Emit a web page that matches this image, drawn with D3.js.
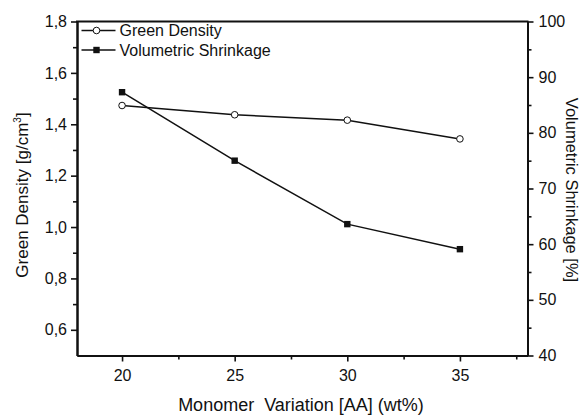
<!DOCTYPE html>
<html>
<head>
<meta charset="utf-8">
<script src="https://cdn.jsdelivr.net/npm/d3@7"></script>
<style>
  body { margin: 0; background: #fff; }
  svg text { font-family: "Liberation Sans", Arial, sans-serif; fill: #111; }
</style>
</head>
<body>
<svg id="chart" width="582" height="415"></svg>
<script>
// data
const monomer = [20, 25, 30, 35];
const greenDensity = [1.473, 1.437, 1.416, 1.343];
const shrinkage = [87.3, 75.0, 63.6, 59.1];

const xTicks = [20, 25, 30, 35];
const xMinor = [22.5, 27.5, 32.5, 37.5];
const leftTicks = [0.6, 0.8, 1.0, 1.2, 1.4, 1.6, 1.8];
const leftMinor = [0.7, 0.9, 1.1, 1.3, 1.5, 1.7];
const rightTicks = [40, 50, 60, 70, 80, 90, 100];
const rightMinor = [45, 55, 65, 75, 85, 95];

const legendNames = ["Green Density", "Volumetric Shrinkage"];

const margin = { top: 21.5, right: 54.5, bottom: 59.5, left: 77 };
const width = 582, height = 415;
const w = width - margin.left - margin.right;
const h = height - margin.top - margin.bottom;

const svg = d3.select("#chart");
const g = svg.append("g").attr("transform", `translate(${margin.left},${margin.top})`);

const x = d3.scaleLinear().domain([18, 38]).range([0, w]);
const yL = d3.scaleLinear().domain([0.5, 1.8]).range([h, 0]);
const yR = d3.scaleLinear().domain([40, 100]).range([h, 0]);

const comma = v => d3.format(".1f")(v).replace(".", ",");

function styleAxis(sel) {
  sel.select(".domain").attr("stroke", "#111").attr("stroke-width", 2);
  sel.selectAll(".tick line").attr("stroke", "#111").attr("stroke-width", 1.6);
  sel.selectAll(".tick text").style("font-size", "16px");
}

// bottom axis
g.append("g").attr("transform", `translate(0,${h})`)
  .call(d3.axisBottom(x).tickValues(xMinor).tickSize(4).tickFormat("").tickSizeOuter(0))
  .call(styleAxis);
g.append("g").attr("transform", `translate(0,${h})`)
  .call(d3.axisBottom(x).tickValues(xTicks).tickSize(6).tickPadding(8).tickSizeOuter(0))
  .call(styleAxis);

// left axis
g.append("g")
  .call(d3.axisLeft(yL).tickValues(leftMinor).tickSize(4).tickFormat("").tickSizeOuter(0))
  .call(styleAxis);
g.append("g")
  .call(d3.axisLeft(yL).tickValues(leftTicks).tickSize(6).tickPadding(4).tickFormat(comma).tickSizeOuter(0))
  .call(styleAxis);

// right axis
g.append("g").attr("transform", `translate(${w},0)`)
  .call(d3.axisRight(yR).tickValues(rightMinor).tickSize(4).tickFormat("").tickSizeOuter(0))
  .call(styleAxis);
g.append("g").attr("transform", `translate(${w},0)`)
  .call(d3.axisRight(yR).tickValues(rightTicks).tickSize(6).tickPadding(5).tickSizeOuter(0))
  .call(styleAxis);

// top frame line
g.append("line").attr("x1", -1).attr("x2", w + 1).attr("y1", 0).attr("y2", 0)
  .attr("stroke", "#111").attr("stroke-width", 2);

// lines
const lineL = d3.line().x((d, i) => x(monomer[i])).y(d => yL(d));
const lineR = d3.line().x((d, i) => x(monomer[i])).y(d => yR(d));

g.append("path").datum(greenDensity).attr("d", lineL)
  .attr("fill", "none").attr("stroke", "#111").attr("stroke-width", 1.5);
g.append("path").datum(shrinkage).attr("d", lineR)
  .attr("fill", "none").attr("stroke", "#111").attr("stroke-width", 1.5);

g.selectAll("circle.gd").data(greenDensity).join("circle")
  .attr("class", "gd")
  .attr("cx", (d, i) => x(monomer[i])).attr("cy", d => yL(d))
  .attr("r", 3.3).attr("fill", "#fff").attr("stroke", "#111").attr("stroke-width", 1);

g.selectAll("rect.vs").data(shrinkage).join("rect")
  .attr("class", "vs")
  .attr("x", (d, i) => x(monomer[i]) - 3.2).attr("y", d => yR(d) - 3.2)
  .attr("width", 6.4).attr("height", 6.4).attr("fill", "#111");

// legend
const leg = g.append("g").attr("transform", "translate(4.5,9)");
legendNames.forEach((name, i) => {
  const row = leg.append("g").attr("transform", `translate(0,${i * 19.5})`);
  row.append("line").attr("x1", 0).attr("x2", 34).attr("y1", 0).attr("y2", 0)
    .attr("stroke", "#111").attr("stroke-width", 1.5);
  if (i === 0) {
    row.append("circle").attr("cx", 15).attr("cy", 0).attr("r", 3.3)
      .attr("fill", "#fff").attr("stroke", "#111").attr("stroke-width", 1);
  } else {
    row.append("rect").attr("x", 11.8).attr("y", -3.2).attr("width", 6.4).attr("height", 6.4)
      .attr("fill", "#111");
  }
  row.append("text").attr("x", 38).attr("y", 5.8).style("font-size", "16px").text(name);
});

// axis titles
svg.append("text")
  .attr("x", 301).attr("y", 411)
  .attr("text-anchor", "middle").style("font-size", "18px")
  .attr("xml:space", "preserve")
  .text("Monomer  Variation [AA] (wt%)");

const lt = svg.append("text")
  .attr("transform", "translate(28,195) rotate(-90)")
  .attr("text-anchor", "middle").style("font-size", "17px");
lt.append("tspan").text("Green Density [g/cm");
lt.append("tspan").attr("dy", -7).style("font-size", "10px").text("3");
lt.append("tspan").attr("dy", 7).text("]");

svg.append("text")
  .attr("transform", "translate(566,190) rotate(90)")
  .attr("text-anchor", "middle").style("font-size", "16.5px")
  .text("Volumetric Shrinkage [%]");
</script>
</body>
</html>
